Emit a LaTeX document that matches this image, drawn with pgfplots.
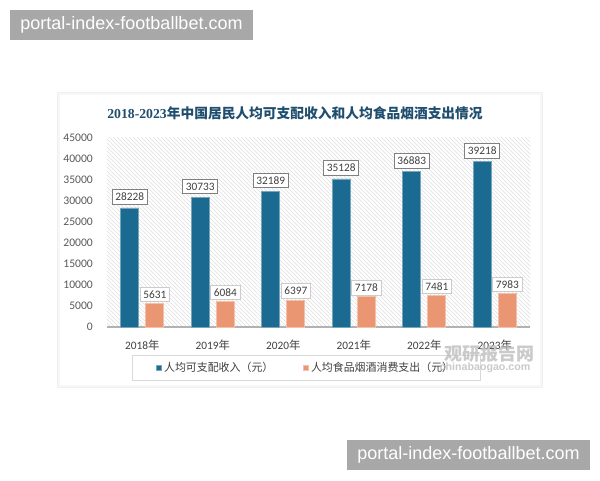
\documentclass[border=0pt]{standalone}
\usepackage{pgfplots}
\pgfplotsset{compat=1.18}
\usepackage{fontspec}
\setmainfont{Carlito}
\newfontfamily\cjk{Noto Sans CJK SC}
\newfontfamily\wmfont{Liberation Sans}
\newfontfamily\titlenum{Liberation Serif}
\usetikzlibrary{patterns}
\definecolor{barblue}{HTML}{1A6A91}
\definecolor{barorange}{HTML}{EB9672}
\definecolor{titlecol}{HTML}{1F4E6E}
\definecolor{tickcol}{HTML}{595959}
\definecolor{legcol}{HTML}{404040}
\definecolor{wmgray}{HTML}{A8A8A8}
\begin{document}
\begin{tikzpicture}[x=0.75pt,y=0.75pt]
\useasboundingbox (0,0) rectangle (600,480);
\fill[white] (0,0) rectangle (600,480);
% panel
\fill[gray!12] (57,92) rectangle (543,388);
\fill[gray!6] (58,93) rectangle (542,387);
\fill[white] (60,95) rectangle (540,385);
% title
\node[text=titlecol, font=\fontsize{10.3}{12}\selectfont] at (295,367)
  {{\titlenum\bfseries 2018-2023}{\cjk\bfseries 年中国居民人均可支配收入和人均食品烟酒支出情况}};
\begin{axis}[
  at={(80.25pt,114.75pt)}, anchor=south west,
  scale only axis, width=317.25pt, height=142.3pt,
  ybar=5.25pt, bar width=13.5pt,
  xmin=-0.5, xmax=5.5, ymin=0, ymax=45000,
  enlargelimits=false, clip=false,
  axis background/.style={pattern=north west lines, pattern color=gray!24},
  axis x line=bottom, axis y line=left,
  x axis line style={-, draw=gray!60, line width=0.8pt},
  y axis line style={draw=none},
  major tick style={draw=none},
  xtick=data,
  xticklabels={{2018{\cjk 年}},{2019{\cjk 年}},{2020{\cjk 年}},{2021{\cjk 年}},{2022{\cjk 年}},{2023{\cjk 年}}},
  xticklabel style={font=\fontsize{8.5}{9}\selectfont, text=legcol, yshift=-4pt},
  ytick={0,5000,...,45000},
  yticklabel style={font=\fontsize{8.7}{10}\selectfont, text=tickcol, xshift=-5pt},
  scaled y ticks=false,
  /pgf/number format/.cd, 1000 sep={}, assume math mode=true, /pgfplots/.cd,
  legend columns=2,
  legend style={at={(0.47,-0.216)}, anchor=center, draw=gray!30, fill=white,
    font=\cjk\fontsize{8.2}{9}\selectfont, text=legcol, inner xsep=18pt, inner ysep=3pt,
    /tikz/every even column/.append style={column sep=20pt}},
  legend image code/.code={\fill[#1] (0pt,-1.9pt) rectangle (3.8pt,1.9pt);},
  nodes near coords,
]
\addplot[fill=barblue, draw=barblue!60!white, line width=0.4pt,
  every node near coord/.append style={font=\fontsize{8.5}{9}\selectfont, text=legcol,
    fill=white, draw=gray, line width=0.5pt, inner xsep=2.4pt, inner ysep=2.6pt, yshift=2.5pt}]
  coordinates {(0,28228) (1,30733) (2,32189) (3,35128) (4,36883) (5,39218)};
\addlegendentry{人均可支配收入（元）}
\addplot[fill=barorange, draw=barorange!60!white, line width=0.4pt,
  every node near coord/.append style={font=\fontsize{8.5}{9}\selectfont, text=legcol,
    fill=white, draw=gray!40, line width=0.5pt, inner xsep=2.4pt, inner ysep=2.6pt, yshift=1pt}]
  coordinates {(0,5631) (1,6084) (2,6397) (3,7178) (4,7481) (5,7983)};
\addlegendentry{人均食品烟酒消费支出（元）}
\end{axis}
% faint site watermark
\node[text=gray!55, opacity=0.75, font=\cjk\bfseries\fontsize{13.5}{14}\selectfont, anchor=west] at (440,126) {观研报告网};
\node[text=gray!55, opacity=0.75, font=\wmfont\bfseries\fontsize{8}{9}\selectfont, anchor=west] at (435,112) {chinabaogao.com};
% overlay boxes
\node[fill=wmgray, text=white, minimum width=182.25pt, minimum height=22.5pt, inner sep=0pt,
  font=\wmfont\fontsize{13.5}{14}\selectfont] at (131.5,455) {portal-index-footballbet.com};
\node[fill=wmgray, text=white, minimum width=182.25pt, minimum height=22.5pt, inner sep=0pt,
  font=\wmfont\fontsize{13.5}{14}\selectfont] at (468.5,25) {portal-index-footballbet.com};
\end{tikzpicture}
\end{document}
